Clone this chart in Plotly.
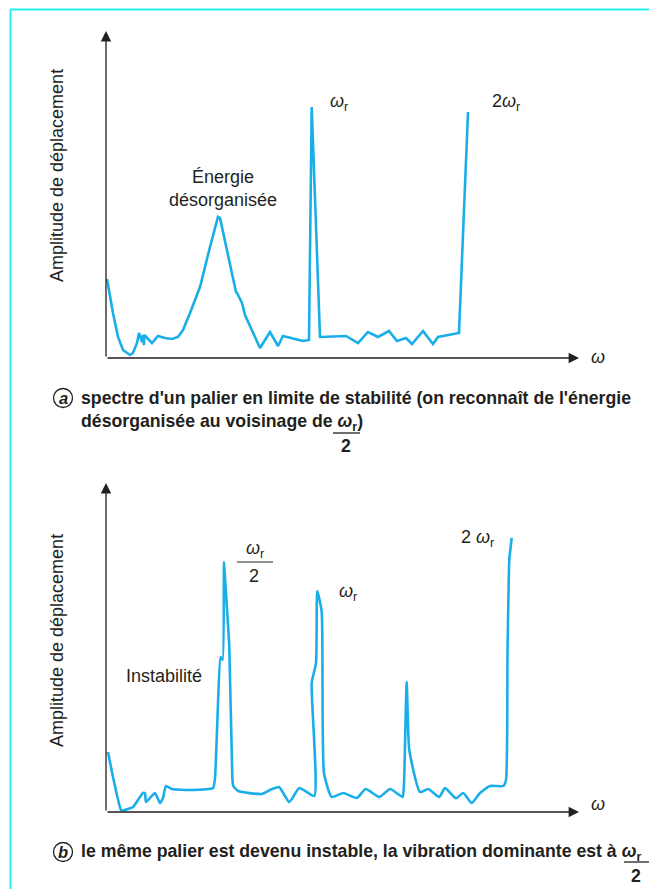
import plotly.graph_objects as go

W, H = 649, 889

# ---- Data (arbitrary units: omega along x, amplitude along y) ----
# Panel a : bearing at stability limit
omega_a = [1, 7, 12, 17, 24, 27, 31, 33, 36, 37, 38, 38.3, 46, 52, 59, 66, 72, 77, 84, 94, 104,
           112, 114, 130, 131, 136, 139, 154, 164, 172, 177, 197, 203, 205.7, 214, 240, 252, 262,
           272, 283, 291, 300, 306, 317, 327, 332, 353, 362]
amp_a = [79, 45, 21, 8, 3, 5, 15, 25, 16, 23, 13, 23, 15, 22, 20, 19, 21, 28, 45, 71, 111,
         141, 140, 66, 65, 55, 43, 10, 26, 12, 22, 17, 18, 251, 21, 22, 15, 26, 21, 27, 17, 20, 14,
         27, 14, 21, 25, 246]

# Panel b : same bearing, unstable
omega_b = [2, 7, 15, 17, 27, 32, 37, 39, 40, 49, 54, 57, 60, 66, 84, 107, 109, 114.7, 116.7,
           118, 119, 123.3, 126.3, 127.3, 132.3, 155.7, 164, 173, 183.3, 193.3, 208.3, 205.7,
           210, 211.3, 215.7, 218, 225.7, 237.3, 250.7, 259.7, 273.3, 284, 293.3, 296.7, 298,
           300.7, 303.3, 314, 322.3, 333.3, 339, 350, 357.3, 365.7, 374, 384, 397.3, 400, 401.5,
           402.5, 403.3, 405.7]
amp_b = [60, 35, 2, 1.5, 5, 12, 19, 18.7, 10, 19, 9, 14, 26, 23, 22, 24, 34, 155, 152, 250,
         234, 165, 35, 26, 21, 18, 22, 25, 10, 24, 16, 129, 149, 221, 200, 39, 15, 19, 14, 23,
         15, 23, 17, 15, 28.7, 130, 62, 20, 23, 15, 24, 13.7, 19, 9, 19, 26, 26, 32, 160, 219,
         252, 274]

x_range = [0, 472]
ya_range = [0, 327]
yb_range = [0, 329]

BLUE = "#1aaee8"
INK = "#231f20"
FONT = "Liberation Sans"


def px(x):
    return x / W


def py(y):
    return 1 - y / H


fig = go.Figure()
fig.add_trace(go.Scatter(x=omega_a, y=amp_a, mode="lines", xaxis="x", yaxis="y",
                         line=dict(color=BLUE, width=2.6), hoverinfo="skip"))
fig.add_trace(go.Scatter(x=omega_b, y=amp_b, mode="lines", xaxis="x2", yaxis="y2",
                         line=dict(color=BLUE, width=2.6, shape="spline", smoothing=0.5),
                         hoverinfo="skip"))

ax_common = dict(visible=False, fixedrange=True)
fig.update_layout(
    width=W, height=H, margin=dict(l=0, r=0, t=0, b=0),
    paper_bgcolor="white", plot_bgcolor="rgba(0,0,0,0)", showlegend=False,
    xaxis=dict(domain=[px(106), px(578)], range=x_range, **ax_common),
    yaxis=dict(domain=[py(358), py(31)], range=ya_range, **ax_common),
    xaxis2=dict(domain=[px(106), px(578)], range=x_range, anchor="y2", **ax_common),
    yaxis2=dict(domain=[py(812), py(483)], range=yb_range, anchor="x2", **ax_common),
)

shapes = []
ann = []

# cyan frame (top and left)
shapes.append(dict(type="line", xref="paper", yref="paper", x0=px(10), x1=1.01, y0=py(9.5), y1=py(9.5),
                   line=dict(color="#22f2f0", width=2)))
shapes.append(dict(type="line", xref="paper", yref="paper", x0=px(10.5), x1=px(10.5), y0=py(9.5), y1=-0.01,
                   line=dict(color="#22f2f0", width=2)))


def arrow(x0, y0, x1, y1):
    ann.append(dict(xref="paper", yref="paper", axref="pixel", ayref="pixel",
                    x=px(x1), y=py(y1), ax=x0 - x1, ay=y0 - y1, text="", showarrow=True,
                    arrowhead=2, arrowsize=1.6, arrowwidth=1.3, arrowcolor=INK, standoff=0))


def text(x, y, s, font, xanchor="center", yanchor="middle", **kw):
    ann.append(dict(xref="paper", yref="paper", x=px(x), y=py(y), text=s, showarrow=False,
                    font=font, xanchor=xanchor, yanchor=yanchor, **kw))


lab = dict(family=FONT, size=18, color=INK)

# axes with arrows
for base, top in [(358, 31), (812, 483)]:
    arrow(106, base, 106, top)
    arrow(106, base, 579, base)

# omega labels at end of x axes
for yy in [357, 804]:
    text(598, yy, "<i>ω</i>", lab)

# y axis titles
for yc in [176, 641]:
    text(57, yc, "Amplitude de déplacement", dict(family=FONT, size=18, color=INK), textangle=-90)

# panel a labels
text(223, 188, "Énergie<br>désorganisée", lab, align="center")
text(328, 103, "<i>ω</i><sub>r</sub>", lab, xanchor="left")
text(490, 103, "2<i>ω</i><sub>r</sub>", lab, xanchor="left")

# panel b labels
text(255, 549, "<i>ω</i><sub>r</sub>", lab)
shapes.append(dict(type="line", xref="paper", yref="paper", x0=px(237), x1=px(273), y0=py(562), y1=py(562),
                   line=dict(color=INK, width=1)))
text(254, 576, "2", lab)
text(337, 592, "<i>ω</i><sub>r</sub>", lab, xanchor="left")
text(459, 538, "2 <i>ω</i><sub>r</sub>", lab, xanchor="left")
text(124, 676, "Instabilité", lab, xanchor="left")

# captions
cap = dict(family=FONT, size=17.7, color=INK)
for cy, letter in [(398, "a"), (852, "b")]:
    shapes.append(dict(type="circle", xref="paper", yref="paper", x0=px(53.5), x1=px(72.5),
                       y0=py(cy + 9.5), y1=py(cy - 9.5), line=dict(color=INK, width=1.3)))
    text(63, cy, "<b><i>" + letter + "</i></b>", dict(family=FONT, size=16.5, color=INK))

text(79, 398, "<b>spectre d'un palier en limite de stabilité (on reconnaît de l'énergie</b>", cap,
     xanchor="left")
text(79, 422, "<b>désorganisée au voisinage de <i>ω</i><sub>r</sub>)</b>", cap, xanchor="left")
shapes.append(dict(type="line", xref="paper", yref="paper", x0=px(333), x1=px(360), y0=py(433), y1=py(433),
                   line=dict(color=INK, width=1.3)))
text(346, 446, "<b>2</b>", cap)

text(79, 852, "<b>le même palier est devenu instable, la vibration dominante est à <i>ω</i><sub>r</sub></b>",
     cap, xanchor="left")
shapes.append(dict(type="line", xref="paper", yref="paper", x0=px(624), x1=px(649), y0=py(862), y1=py(862),
                   line=dict(color=INK, width=1.3)))
text(636, 876, "<b>2</b>", cap)

fig.update_layout(shapes=shapes, annotations=ann)
fig.write_html("out.html")
